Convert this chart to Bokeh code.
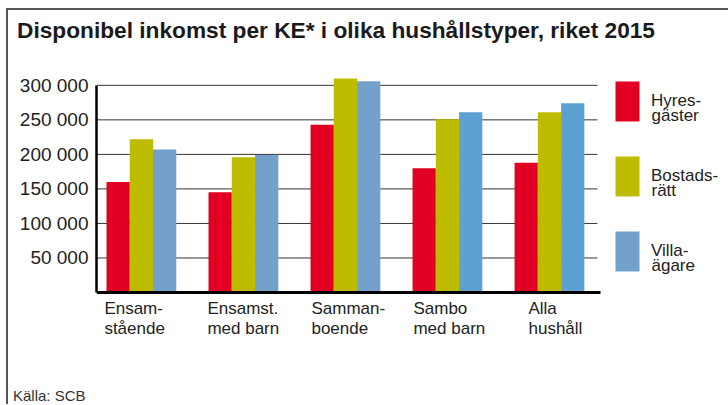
from bokeh.plotting import figure
from bokeh.layouts import column
from bokeh.core.properties import value
from bokeh.models import (ColumnDataSource, Range1d, FixedTicker, Div, LabelSet,
                          Legend, LegendItem)
from bokeh.transform import dodge
from bokeh.embed import file_html
from bokeh.resources import INLINE

# ---------------- data ----------------
cat_line1 = ["Ensam-", "Ensamst.", "Samman-", "Sambo", "Alla"]
cat_line2 = ["stående", "med barn", "boende", "med barn", "hushåll"]
series_line1 = ["Hyres-", "Bostads-", "Villa-"]
series_line2 = ["gäster", "rätt", "ägare"]
hyresgaster = [160000, 145000, 243000, 180000, 188000]
bostadsratt = [222000, 196000, 310000, 251000, 261000]
villaagare = [207000, 199000, 306000, 261000, 274000]
tick_values = [50000, 100000, 150000, 200000, 250000, 300000]
tick_labels = ["50 000", "100 000", "150 000", "200 000", "250 000", "300 000"]
title_text = "Disponibel inkomst per KE* i olika hushållstyper, riket 2015"
source_text = "Källa: SCB"

# ---------------- style / layout ----------------
FONT = "Liberation Sans"
RED = "#E10021"
OLIVE = "#BEBC00"
BLUE = "#74A0CC"
BLUE2 = "#5CA1D1"
blue_colors = [BLUE, BLUE, BLUE, BLUE2, BLUE2]

W = 720
TITLE_H, FIG_H, SRC_H = 40, 320, 34
FL = 88                      # frame left (px inside figure)
FT, ZERO_PX, MB = 21, 242, 20   # frame top, y=0 line, bottom border (px inside figure)
FB = FIG_H - MB
PX_PER_UNIT = 102.02
X0 = -0.44
X1 = X0 + (W - FL) / PX_PER_UNIT
AXIS_END = 4.5
GRID_END = 4.47
Y1 = 320000
PX_PER_VAL = (ZERO_PX - FT) / Y1
Y0 = -(FB - ZERO_PX) / PX_PER_VAL


def dx(px):
    return X0 + (px - FL) / PX_PER_UNIT


def dy(py):
    return (ZERO_PX - py) / PX_PER_VAL


p = figure(width=W, height=FIG_H, x_range=Range1d(X0, X1), y_range=Range1d(Y0, Y1),
           output_backend="svg", toolbar_location=None, title=None,
           min_border_left=FL, min_border_right=0,
           min_border_top=FT, min_border_bottom=MB)
p.outline_line_color = None
p.background_fill_color = "white"
p.border_fill_color = "white"

n = len(cat_line1)
src = ColumnDataSource(dict(idx=list(range(n)), h=hyresgaster,
                            b=bostadsratt, v=villaagare, vcol=blue_colors))

# horizontal grid lines at the tick values, limited to the plot area
p.xgrid.visible = False
p.ygrid.visible = False
p.segment(x0=X0, x1=GRID_END, y0=tick_values, y1=tick_values,
          line_color="#333333", line_width=1)

bw = 0.228
r1 = p.vbar(x=dodge("idx", -bw), top="h", width=bw, fill_color=RED,
            line_color=None, source=src)
r2 = p.vbar(x=dodge("idx", 0), top="b", width=bw, fill_color=OLIVE,
            line_color=None, source=src)
r3 = p.vbar(x=dodge("idx", bw), top="v", width=bw, fill_color="vcol",
            line_color=None, source=src)

# y axis
yax = p.yaxis[0]
yax.ticker = FixedTicker(ticks=tick_values)
yax.major_label_overrides = {v: s for v, s in zip(tick_values, tick_labels)}
yax.bounds = (0, 300000)
yax.axis_line_width = 2.5
yax.axis_line_color = "black"
yax.major_tick_line_color = None
yax.minor_tick_line_color = None
yax.major_tick_out = 0
yax.major_label_standoff = 8
yax.major_label_text_font = FONT
yax.major_label_text_font_size = "19px"
yax.major_label_text_color = "#222222"

# x axis: baseline at y = 0
xax = p.xaxis[0]
xax.fixed_location = 0
xax.ticker = FixedTicker(ticks=[])
xax.bounds = (X0, AXIS_END)
xax.axis_line_width = 3
xax.axis_line_color = "black"
xax.major_tick_line_color = None
xax.minor_tick_line_color = None
xax.major_label_text_font_size = "0px"

# category labels, two left-aligned lines under each group
label_xoff = [-37, -36, -34, -34, -21]
cat_src = ColumnDataSource(dict(idx=list(range(n)), l1=cat_line1, l2=cat_line2,
                                xo=label_xoff))
for col, yo in (("l1", -21), ("l2", -41)):
    p.add_layout(LabelSet(x="idx", y=0, text=col, x_offset="xo", y_offset=yo,
                          source=cat_src, text_font=value(FONT),
                          text_font_size=value("17px"),
                          text_color="#222222", text_align="left",
                          text_baseline="alphabetic"))

# legend (swatches + first line), right of the bars
legend = Legend(items=[LegendItem(label=series_line1[0], renderers=[r1], index=0),
                       LegendItem(label=series_line1[1], renderers=[r2], index=0),
                       LegendItem(label=series_line1[2], renderers=[r3], index=0)],
                location=(516, FB - 226), orientation="vertical",
                glyph_width=30, glyph_height=50, label_standoff=9, spacing=25,
                padding=0, margin=0, border_line_color=None,
                background_fill_alpha=0, label_height=50,
                label_text_font=FONT, label_text_font_size="17px",
                label_text_color="#222222", label_text_baseline="alphabetic")
p.add_layout(legend)
# second line of each legend entry
leg_src = ColumnDataSource(dict(x=[dx(643)] * 3, y=[dy(70), dy(145), dy(220)],
                                t=series_line2))
p.add_layout(LabelSet(x="x", y="y", text="t", source=leg_src, text_font=value(FONT),
                      text_font_size=value("17px"), text_color="#222222",
                      text_align="left", text_baseline="alphabetic"))

title_div = Div(
    text=("<div style=\"position:relative; left:9px; top:7px; font-family:'Liberation Sans';"
          " font-size:22.7px; font-weight:bold; line-height:26px; color:#1a1a1a;"
          f" white-space:nowrap;\">{title_text}</div>"),
    width=W, height=TITLE_H, margin=0)
source_div = Div(
    text=("<div style=\"position:relative; left:5px; top:17px; font-family:'Liberation Sans';"
          " font-size:15px; line-height:17px; color:#333333;"
          f" white-space:nowrap;\">{source_text}</div>"),
    width=W, height=SRC_H, margin=0)

layout = column(title_div, p, source_div, spacing=0,
                styles={"border-top": "2px solid #555555",
                        "border-left": "2px solid #555555",
                        "margin-top": "8px", "margin-left": "6px"})

open("out.html", "w").write(file_html(layout, INLINE))
